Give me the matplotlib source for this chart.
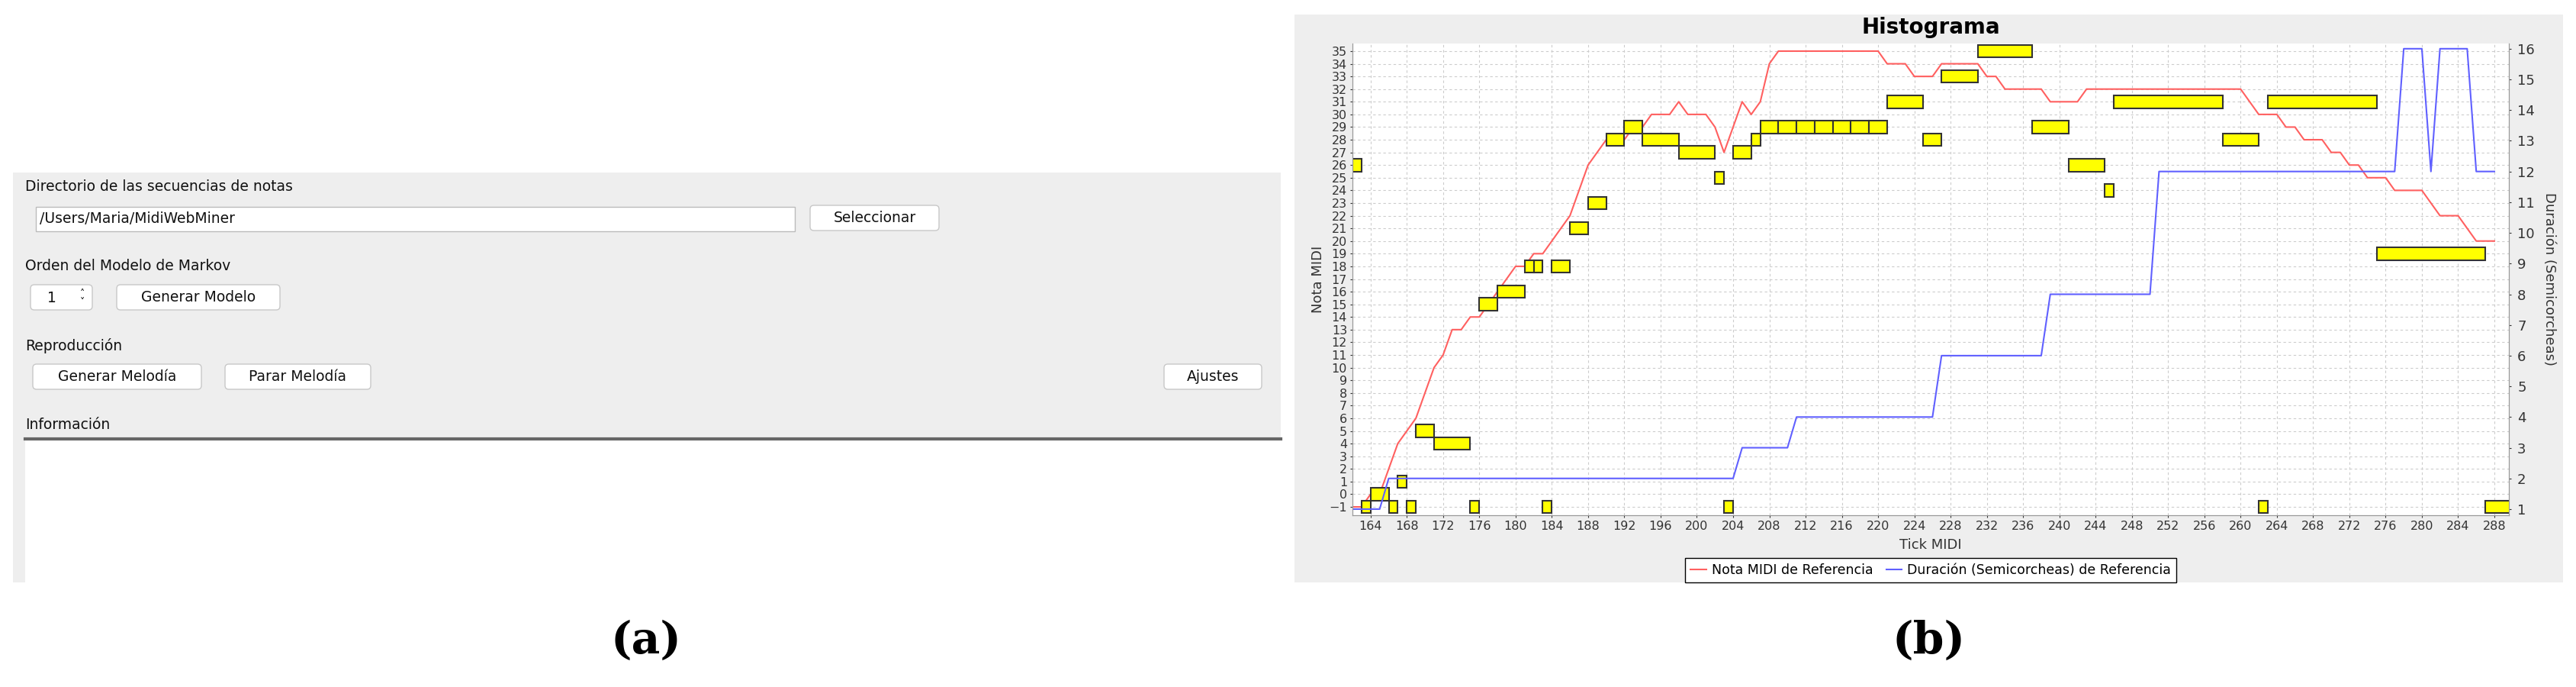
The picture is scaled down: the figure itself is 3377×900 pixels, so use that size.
import matplotlib
matplotlib.use('Agg')
import matplotlib.pyplot as plt
from matplotlib.patches import Rectangle, FancyBboxPatch
from matplotlib.lines import Line2D

W, H = 3377, 900

# yellow note blocks: start tick, duration (ticks), MIDI note
block_start = [162, 163, 164, 166, 167, 168, 169, 171, 175, 176, 178, 181, 182, 183, 184,
               186, 188, 190, 192, 194, 198, 202, 203, 204, 206,
               207, 209, 211, 213, 215, 217, 219,
               221, 225, 227, 231, 237, 241, 245, 246, 258, 262, 263, 275, 287]
block_dur = [1, 1, 2, 1, 1, 1, 2, 4, 1, 2, 3, 1, 1, 1, 2,
             2, 2, 2, 2, 4, 4, 1, 1, 2, 1,
             2, 2, 2, 2, 2, 2, 2,
             4, 2, 4, 6, 4, 4, 1, 12, 4, 1, 12, 12, 3]
block_note = [26, -1, 0, -1, 1, -1, 5, 4, -1, 15, 16, 18, 18, -1, 18,
              21, 23, 28, 29, 28, 27, 25, -1, 27, 28,
              29, 29, 29, 29, 29, 29, 29,
              31, 28, 33, 35, 29, 26, 24, 31, 28, -1, 31, 19, -1]

# reference note line
ref_tick = [162, 163, 164, 165, 167, 168, 169, 171, 172, 173, 174, 175, 176, 180, 181, 182, 183,
            186, 188, 190, 192, 193, 194, 195, 197, 198, 199, 201, 202, 203, 205, 206, 207, 208,
            209, 220, 221, 223, 224, 226, 227, 231, 232, 233, 234, 238, 239, 242, 243, 260, 262,
            264, 265, 266, 267, 269, 270, 271, 272, 273, 274, 276, 277, 280, 282, 284, 286, 288]
ref_note = [-1, -1, 0, 0, 4, 5, 6, 10, 11, 13, 13, 14, 14, 18, 18, 19, 19,
            22, 26, 28, 28, 29, 29, 30, 30, 31, 30, 30, 29, 27, 31, 30, 31, 34,
            35, 35, 34, 34, 33, 33, 34, 34, 33, 33, 32, 32, 31, 31, 32, 32, 30,
            30, 29, 29, 28, 28, 27, 27, 26, 26, 25, 25, 24, 24, 22, 22, 20, 20]

# reference duration line
dur_tick = [162, 165, 166, 204, 205, 210, 211, 226, 227, 238, 239, 250, 251, 277, 278, 280,
            281, 282, 285, 286, 288]
dur_val = [1, 1, 2, 2, 3, 3, 4, 4, 6, 6, 8, 8, 12, 12, 16, 16, 12, 16, 16, 12, 12]

x_ticks = list(range(164, 289, 4))
left_ticks = list(range(-1, 36))
right_ticks = list(range(1, 17))


def px(x0, y0, x1, y1):
    return [x0 / W, 1 - y1 / H, (x1 - x0) / W, (y1 - y0) / H]


fig = plt.figure(figsize=(W / 100, H / 100), dpi=100)
bg = fig.add_axes([0, 0, 1, 1])
bg.set_xlim(0, W)
bg.set_ylim(H, 0)
bg.axis('off')

gui_font = dict(family='DejaVu Sans', fontsize=13.5, color='#111111')

# ---- (a) GUI panel
bg.add_patch(Rectangle((17, 226), 1662, 537, color='#eeeeee', lw=0))
bg.text(33, 244, 'Directorio de las secuencias de notas', va='center', **gui_font)
bg.add_patch(Rectangle((47, 271), 995, 32, fc='white', ec='#bbbbbb', lw=1))
bg.text(52, 287, '/Users/Maria/MidiWebMiner', va='center', **gui_font)


def button(x0, x1, y0, y1, label):
    bg.add_patch(FancyBboxPatch((x0, y0), x1 - x0, y1 - y0,
                                boxstyle='round,pad=0,rounding_size=5',
                                fc='white', ec='#c8c8c8', lw=1))
    bg.text((x0 + x1) / 2, (y0 + y1) / 2, label, ha='center', va='center', **gui_font)


button(1062, 1231, 269, 302, 'Seleccionar')
bg.text(33, 349, 'Orden del Modelo de Markov', va='center', **gui_font)
button(40, 121, 373, 406, '')
bg.text(62, 390, '1', va='center', **gui_font)
bg.text(108, 390, '\u02c4\n\u02c5', va='center', ha='center', family='DejaVu Sans',
        fontsize=9, linespacing=0.8)
button(153, 367, 373, 406, 'Generar Modelo')
bg.text(33, 453, 'Reproducción', va='center', **gui_font)
button(43, 264, 477, 510, 'Generar Melodía')
button(295, 486, 477, 510, 'Parar Melodía')
button(1526, 1654, 477, 510, 'Ajustes')
bg.text(33, 557, 'Información', va='center', **gui_font)
bg.add_patch(Rectangle((33, 577), 1646, 186, fc='white', lw=0))
bg.plot([33, 1679], [575, 575], color='#666666', lw=3)

# ---- (b) chart panel
bg.add_patch(Rectangle((1697, 19), 1663, 744, color='#eeeeee', lw=0))
bg.text(2531, 36, 'Histograma', ha='center', va='center', fontsize=20,
        fontweight='bold', family='DejaVu Sans')

bg.text(847, 840, '(a)', ha='center', va='center', fontsize=42,
        fontweight='bold', family='DejaVu Serif')
bg.text(2528, 840, '(b)', ha='center', va='center', fontsize=42,
        fontweight='bold', family='DejaVu Serif')

ax = fig.add_axes(px(1773, 57, 3289, 675))
ax.set_facecolor('white')
ax.set_xlim(162, 289.6)
ax.set_ylim(-1.66, 35.6)
ax.set_xticks(x_ticks)
ax.set_yticks(left_ticks)
ax.tick_params(labelsize=11.5, length=2, colors='#333333', pad=3)
ax.grid(True, color='#cccccc', ls=(0, (3, 3)), lw=0.8)
ax.set_axisbelow(True)
for s in ax.spines.values():
    s.set_color('#999999')
ax.spines['top'].set_visible(False)
ax.set_xlabel('Tick MIDI', fontsize=13, color='#333333', labelpad=6)
ax.set_ylabel('Nota MIDI', fontsize=13, color='#333333', labelpad=4)

ax.plot(ref_tick, ref_note, color='#ff6060', lw=1.5, zorder=2)
ax.bar(block_start, [1] * len(block_note), width=block_dur,
       bottom=[n - 0.5 for n in block_note], align='edge',
       color='#ffff00', edgecolor='#333333', lw=1.5, zorder=3)

ax2 = ax.twinx()
ax2.set_ylim(0.8, 16.17)
ax2.set_yticks(right_ticks)
ax2.tick_params(labelsize=13, length=2, colors='#333333', pad=6)
for s in ax2.spines.values():
    s.set_color('#999999')
ax2.spines['top'].set_visible(False)
ax2.plot(dur_tick, dur_val, color='#6060ff', lw=1.5)
ax2.set_ylabel('Duración (Semicorcheas)', fontsize=13, color='#333333',
               rotation=270, labelpad=20)

handles = [Line2D([], [], color='#ff6060', lw=1.5),
           Line2D([], [], color='#6060ff', lw=1.5)]
fig.legend(handles, ['Nota MIDI de Referencia', 'Duración (Semicorcheas) de Referencia'],
           loc='center', bbox_to_anchor=(2531 / W, 1 - 747 / H), ncol=2,
           fontsize=12.5, fancybox=False, edgecolor='black', framealpha=1,
           handlelength=1.2, handletextpad=0.4, columnspacing=1.0,
           borderpad=0.4)

fig.savefig('out.png', dpi=100)
